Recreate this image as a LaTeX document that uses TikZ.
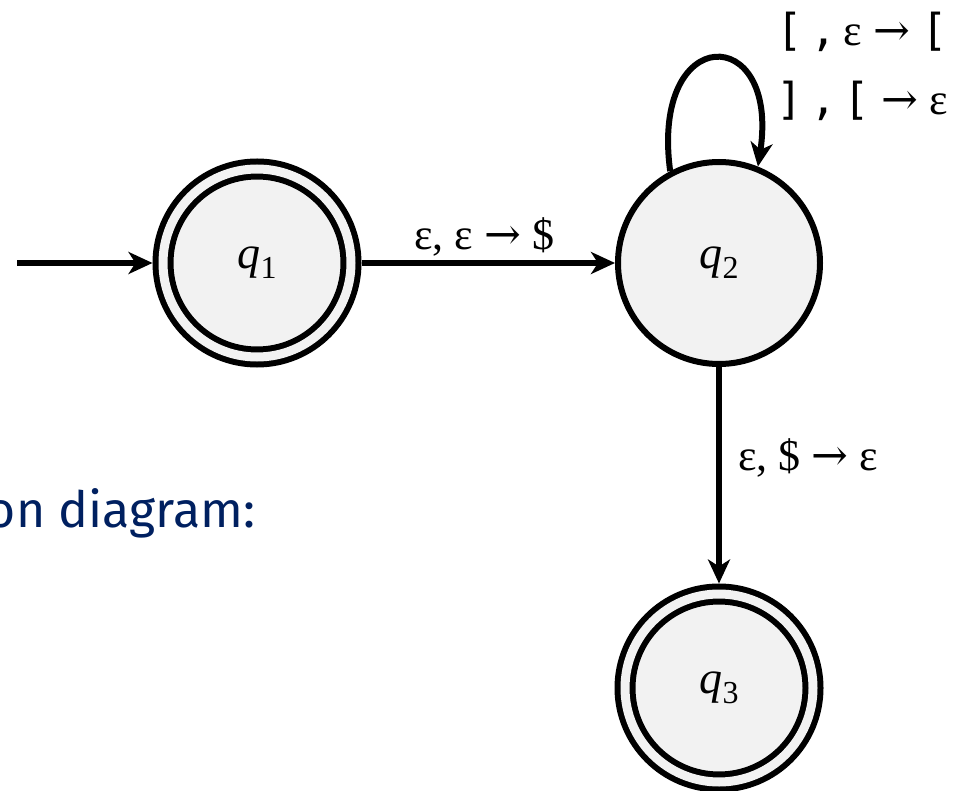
\documentclass[tikz,border=0pt]{standalone}
\usepackage{fontspec}
\setmainfont{Liberation Serif}
\newfontfamily\notefont{Fira Sans}
\newfontfamily\bracketfont{DejaVu Sans Mono}
\newfontfamily\arrowfont{DejaVu Serif}
\usetikzlibrary{arrows.meta}
\definecolor{statefill}{HTML}{F2F2F2}
\definecolor{notecolor}{HTML}{002060}
\newcommand{\stname}[1]{\textit{q}\raisebox{-0.22em}{\fontsize{32}{36}\selectfont #1}}
\newcommand{\ar}{ {\arrowfont →} }

\begin{document}
\begin{tikzpicture}[x=1pt,y=-1pt,>={Stealth[length=24pt,width=22pt,inset=7pt]},line width=6pt,
  state/.style={circle,draw,fill=statefill,minimum size=202pt,inner sep=0pt,font=\fontsize{46}{52}\selectfont},
  accept/.style={state,double=statefill,double distance=9pt,minimum size=188pt,outer sep=10.5pt},
  lab/.style={font=\fontsize{44}{50}\selectfont,inner sep=4pt}]
\useasboundingbox (0,0) rectangle (969,791);
\node[accept] (q1) at (257,263) {\stname{1}};
\node[state] (q2) at (719,263) {\stname{2}};
\node[accept] (q3) at (719,688) {\stname{3}};
\coordinate (start) at (17,263);
\draw[->] (start) -- (q1);
\draw[->] (q1) -- node[lab,above,xshift=-4pt] {ε, ε\ar\$} (q2);
\draw[->] (q2) -- node[lab,right=12pt,pos=0.42] {ε, \$\ar ε} (q3);
\draw[->] (q2.118) .. controls (650,22) and (780,22) .. (q2.68);
\node[lab] (push) at (862,32) {{\bracketfont[\,,}\,ε\ar{\bracketfont[}};
\node[lab] (pop) at (862,101) {{\bracketfont]\,,\,[}\ar ε};
\node[anchor=base west,inner sep=0pt,text=notecolor,font=\notefont\fontsize{50}{56}\selectfont] (note) at (-16,527) {on diagram:};
\end{tikzpicture}
\end{document}
